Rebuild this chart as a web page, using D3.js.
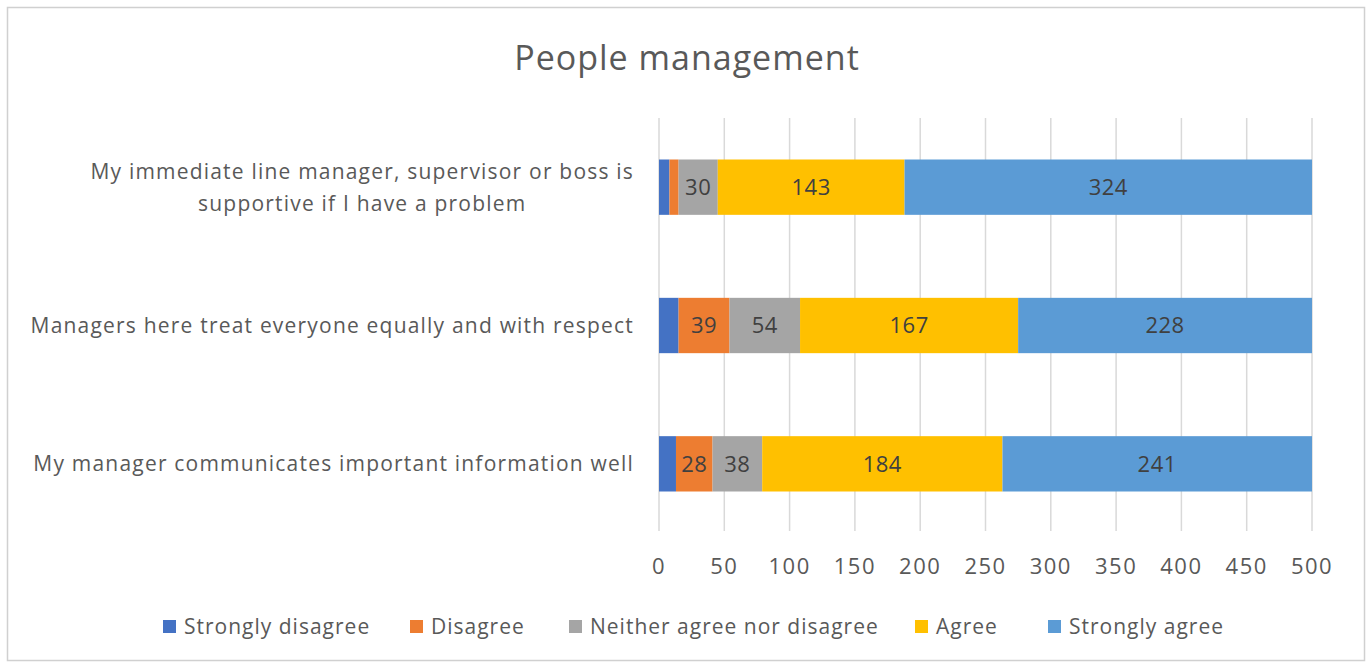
<!DOCTYPE html>
<html>
<head>
<meta charset="utf-8">
<script src="https://cdn.jsdelivr.net/npm/d3@7"></script>
<style>
  body { margin: 0; background: #fff; }
  svg text { font-family: "Open Sans", "Noto Sans", sans-serif; fill: #595959; }
</style>
</head>
<body>
<div id="chart"></div>
<script>
// survey questions, top to bottom
const questions = [
  ["My immediate line manager, supervisor or boss is", "supportive if I have a problem"],
  ["Managers here treat everyone equally and with respect"],
  ["My manager communicates important information well"]
];
const answers = ["Strongly disagree", "Disagree", "Neither agree nor disagree", "Agree", "Strongly agree"];
const colors = ["#4472C4", "#ED7D31", "#A5A5A5", "#FFC000", "#5B9BD5"];
// counts per question, same order as answers
const counts = [
  [8, 7, 30, 143, 324],
  [15, 39, 54, 167, 228],
  [13, 28, 38, 184, 241]
];
const ticks = [0, 50, 100, 150, 200, 250, 300, 350, 400, 450, 500];

const width = 1370, height = 664;
const plotL = 659, plotR = 1312, plotT = 118, plotB = 531;
const labelRight = 634;

const svg = d3.select("#chart").append("svg")
  .attr("width", width)
  .attr("height", height);

// chart frame
svg.append("rect")
  .attr("x", 7.5).attr("y", 7.5)
  .attr("width", 1357).attr("height", 653)
  .attr("fill", "#fff")
  .attr("stroke", "#d0d0d0")
  .attr("stroke-width", 1.5);

svg.append("text")
  .attr("x", 687).attr("y", 70)
  .attr("text-anchor", "middle")
  .attr("font-size", 34)
  .attr("letter-spacing", 1)
  .text("People management");

const x = d3.scaleLinear().domain([0, 500]).range([plotL, plotR]);
const y = d3.scaleBand().domain(d3.range(questions.length)).range([plotT, plotB + 2]).paddingInner(0.6).paddingOuter(0.3);

// gridlines
svg.append("g").selectAll("line")
  .data(ticks)
  .join("line")
  .attr("x1", d => x(d)).attr("x2", d => x(d))
  .attr("y1", plotT).attr("y2", plotB)
  .attr("stroke", "#d9d9d9")
  .attr("stroke-width", 1.5);

// tick labels
svg.append("g").selectAll("text")
  .data(ticks)
  .join("text")
  .attr("x", d => x(d))
  .attr("y", 574)
  .attr("text-anchor", "middle")
  .attr("font-size", 22)
  .attr("letter-spacing", 1.5)
  .text(d => d);

svg.append("clipPath").attr("id", "plot")
  .append("rect")
  .attr("x", plotL).attr("y", 0)
  .attr("width", plotR - plotL).attr("height", height);

// stack segments
const segs = [];
counts.forEach((row, i) => {
  let acc = 0;
  row.forEach((v, j) => {
    segs.push({ q: i, a: j, v: v, x0: acc, x1: acc + v });
    acc += v;
  });
});

const bars = svg.append("g").attr("clip-path", "url(#plot)");
bars.selectAll("rect")
  .data(segs)
  .join("rect")
  .attr("x", d => x(d.x0))
  .attr("width", d => x(d.x1) - x(d.x0))
  .attr("y", d => y(d.q))
  .attr("height", y.bandwidth())
  .attr("fill", d => colors[d.a]);

// value labels centered on the visible part
svg.append("g").selectAll("text")
  .data(segs.filter(d => d.v >= 20))
  .join("text")
  .attr("x", d => (x(d.x0) + x(Math.min(d.x1, 500))) / 2)
  .attr("y", d => y(d.q) + y.bandwidth() / 2)
  .attr("dy", "0.36em")
  .attr("text-anchor", "middle")
  .attr("font-size", 22)
  .attr("letter-spacing", 0.5)
  .style("fill", "#404040")
  .text(d => d.v);

// question labels, wrapped lines centred under the first one
questions.forEach((lines, i) => {
  const cy = y(i) + y.bandwidth() / 2;
  const lh = 32;
  const first = svg.append("text")
    .attr("x", labelRight)
    .attr("y", cy - (lines.length - 1) * lh / 2)
    .attr("dy", "0.36em")
    .attr("text-anchor", "end")
    .attr("font-size", 21)
    .attr("letter-spacing", 1.2)
    .text(lines[0]);
  const w = first.node().getComputedTextLength();
  lines.slice(1).forEach((s, k) => {
    svg.append("text")
      .attr("x", labelRight - w / 2)
      .attr("y", cy - (lines.length - 1) * lh / 2 + (k + 1) * lh)
      .attr("dy", "0.36em")
      .attr("text-anchor", "middle")
      .attr("font-size", 21)
      .attr("letter-spacing", 1.2)
      .text(s);
  });
});

// legend
const legendX = [163, 410, 569, 915, 1048];
const lg = svg.append("g").selectAll("g")
  .data(answers)
  .join("g")
  .attr("transform", (d, i) => `translate(${legendX[i]},620)`);
lg.append("rect")
  .attr("width", 13).attr("height", 13)
  .attr("fill", (d, i) => colors[i]);
lg.append("text")
  .attr("x", 21).attr("y", 6.5)
  .attr("dy", "0.36em")
  .attr("font-size", 21)
  .attr("letter-spacing", 1)
  .text(d => d);
</script>
</body>
</html>
